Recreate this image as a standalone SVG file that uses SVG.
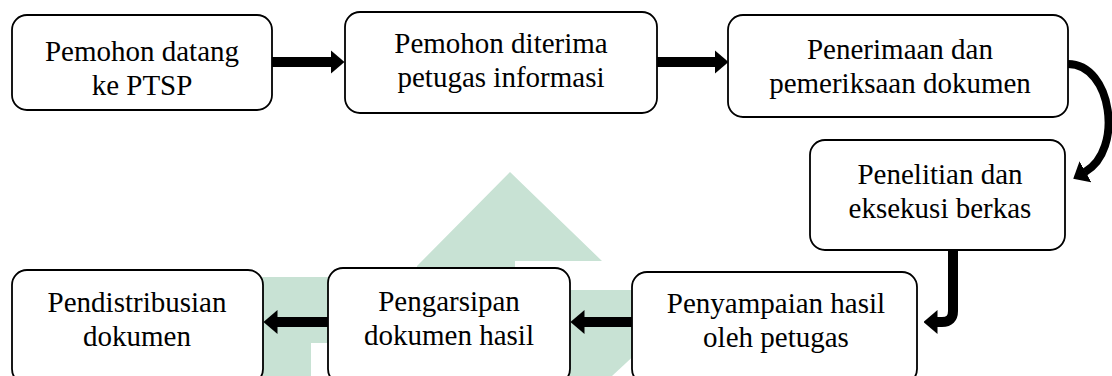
<svg xmlns="http://www.w3.org/2000/svg" width="1112" height="376" viewBox="0 0 1112 376">
<style>
.box{fill:#ffffff;stroke:#000000;stroke-width:1.8}
.lbl{font-family:"Liberation Serif","Times New Roman",serif;font-size:29px;fill:#000000;text-anchor:middle}
.conn{fill:none;stroke:#000000;stroke-width:10}
.curve{fill:none;stroke:#000000;stroke-width:8}
.wm{fill:#c8e2d4}
</style>
<defs>
<marker id="ah" markerUnits="userSpaceOnUse" viewBox="0 0 14 24" refX="0.5" refY="12" markerWidth="14" markerHeight="24" orient="auto">
<path d="M0,0 L14,12 L0,24 z" fill="#000000"/>
</marker>
</defs>
<rect width="1112" height="376" fill="#ffffff"/>
<g id="watermark">
<polygon class="wm" points="510,172 602,261 515,261 515,290 417,290 417,266"/>
<rect class="wm" x="250" y="277" width="90" height="99"/>
<rect x="311" y="343" width="25" height="33" fill="#ffffff"/>
<rect class="wm" x="560" y="290" width="80" height="86"/>
<polygon points="612,376 640,350 640,376" fill="#ffffff"/>
</g>
<g id="connectors">
<line class="conn" x1="272" y1="62" x2="331" y2="62" marker-end="url(#ah)"/>
<line class="conn" x1="657" y1="62" x2="715" y2="62" marker-end="url(#ah)"/>
<path class="curve" d="M1068,64 C1112,64 1124,150 1085,172" marker-end="url(#ah)"/>
<path class="conn" d="M953,250 L953,311 Q953,322 942,322 L937,322" marker-end="url(#ah)"/>
<line class="conn" x1="632" y1="322" x2="584" y2="322" marker-end="url(#ah)"/>
<line class="conn" x1="328" y1="322" x2="277" y2="322" marker-end="url(#ah)"/>
</g>
<g id="n1">
<rect class="box" x="12" y="15" width="260" height="95" rx="15"/>
<text class="lbl" x="142" y="61">Pemohon datang</text>
<text class="lbl" x="142" y="95">ke PTSP</text>
</g>
<g id="n2">
<rect class="box" x="345" y="12" width="312" height="101" rx="15"/>
<text class="lbl" x="501" y="53">Pemohon diterima</text>
<text class="lbl" x="501" y="87">petugas informasi</text>
</g>
<g id="n3">
<rect class="box" x="728" y="15" width="340" height="102" rx="15"/>
<text class="lbl" x="900" y="59">Penerimaan dan</text>
<text class="lbl" x="900" y="93">pemeriksaan dokumen</text>
</g>
<g id="n4">
<rect class="box" x="810" y="140" width="255" height="110" rx="15"/>
<text class="lbl" x="940" y="184">Penelitian dan</text>
<text class="lbl" x="940" y="218">eksekusi berkas</text>
</g>
<g id="n5">
<rect class="box" x="632" y="272" width="285" height="112" rx="15"/>
<text class="lbl" x="776" y="313">Penyampaian hasil</text>
<text class="lbl" x="776" y="347">oleh petugas</text>
</g>
<g id="n6">
<rect class="box" x="328" y="268" width="242" height="116" rx="15"/>
<text class="lbl" x="449" y="311">Pengarsipan</text>
<text class="lbl" x="449" y="345">dokumen hasil</text>
</g>
<g id="n7">
<rect class="box" x="12" y="270" width="251" height="114" rx="15"/>
<text class="lbl" x="137" y="312">Pendistribusian</text>
<text class="lbl" x="137" y="346">dokumen</text>
</g>
</svg>
